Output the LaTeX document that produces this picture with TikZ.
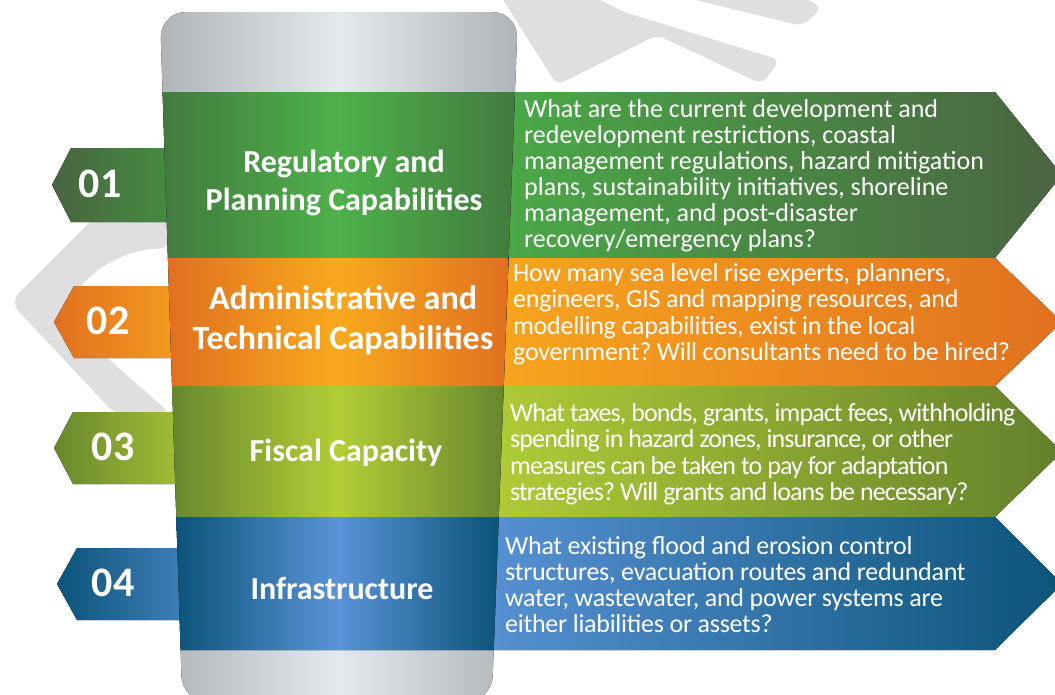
\documentclass[tikz,border=0pt]{standalone}
\usepackage{fontspec}
\setmainfont{Carlito}
\usepackage{tikz}
\frenchspacing

\definecolor{wmark}{HTML}{DFDFDF}
\definecolor{cupEdge}{HTML}{B0B4B8}
\definecolor{cupMid}{HTML}{E3E9ED}
\definecolor{regEdge}{HTML}{427A3E}
\definecolor{regMid}{HTML}{4EB14A}
\definecolor{regDeep}{HTML}{4A6442}
\definecolor{admEdge}{HTML}{E1701F}
\definecolor{admMid}{HTML}{F8A91E}
\definecolor{fisEdge}{HTML}{68872E}
\definecolor{fisMid}{HTML}{B3CE36}
\definecolor{infEdge}{HTML}{0B5479}
\definecolor{infMid}{HTML}{5A93D7}

\begin{document}
\begin{tikzpicture}[x=1pt,y=-1pt,line join=round,
    num/.style={text=white,font=\bfseries\fontsize{42}{42}\selectfont,anchor=base,inner sep=0},
    title/.style={text=white,font=\bfseries\fontsize{32}{38}\selectfont,align=center,inner sep=0},
    desc/.style={text=white,font=\fontsize{26}{26}\selectfont,align=left,inner sep=0,anchor=north west}]
\useasboundingbox (0,0) rectangle (1055,694);
\clip (0,0) rectangle (1055,694);
\fill[white] (0,0) rectangle (1055,694);

% watermark
\fill[wmark,rounded corners=12] (172,140) -- (10,302) -- (116,415) -- (172,415) -- (62,318)
    .. controls (85,272) and (120,250) .. (172,248) -- cycle;
\fill[wmark,rounded corners=8] (500,-5) -- (557,85) -- (657,35) -- (762,84) -- (780,60)
    -- (624,12) -- (590,-5) -- cycle;
\fill[wmark,rounded corners=8] (675,-5) -- (802,26) -- (822,8) -- (800,-5) -- cycle;

% number tabs
\fill[left color=regDeep,right color=regMid!85!black] (52,185) -- (71,148) -- (200,148) -- (200,222) -- (71,222) -- cycle;
\fill[left color=admEdge,right color=admMid!90!admEdge] (54,322) -- (74,286) -- (200,286) -- (200,358) -- (74,358) -- cycle;
\fill[left color=fisEdge,right color=fisMid!90!fisEdge] (54,448) -- (73,412) -- (200,412) -- (200,484) -- (73,484) -- cycle;
\fill[left color=infEdge,right color=infMid!75!infEdge] (57,584) -- (77,548) -- (200,548) -- (200,620) -- (77,620) -- cycle;

% question arrows
\fill[left color=regMid!95!black,right color=regDeep] (515,92) -- (995,92) -- (1062,175) -- (995,258) -- (508.6,258) -- cycle;
\fill[left color=admMid!92!admEdge,right color=admEdge] (508.6,258) -- (995,258) -- (1062,322) -- (995,386) -- (503.7,386) -- cycle;
\fill[left color=fisMid!95!fisEdge,right color=fisEdge!95!black] (503.7,386) -- (995,386) -- (1062,452) -- (995,517) -- (498.7,517) -- cycle;
\fill[left color=infMid!95!infEdge,right color=infEdge] (498.7,517) -- (995,517) -- (1062,584) -- (995,650) -- (493.7,650) -- cycle;

% cup
\fill[left color=cupEdge,right color=cupEdge,middle color=cupMid,rounded corners=26]
    (160,12) -- (518,12) -- (491.7,702) -- (182.3,702) -- cycle;
\fill[left color=regEdge,right color=regEdge,middle color=regMid] (162.6,92) -- (515,92) -- (508.6,258) -- (167.9,258) -- cycle;
\fill[left color=admEdge,right color=admEdge,middle color=admMid] (167.9,258) -- (508.6,258) -- (503.7,386) -- (172.1,386) -- cycle;
\fill[left color=fisEdge,right color=fisEdge,middle color=fisMid] (172.1,386) -- (503.7,386) -- (498.7,517) -- (176.3,517) -- cycle;
\fill[left color=infEdge,right color=infEdge,middle color=infMid] (176.3,517) -- (498.7,517) -- (493.7,650) -- (180.6,650) -- cycle;

% labels
\node[num] (n01) at (100,197) {01};
\node[num] (n02) at (108,334) {02};
\node[num] (n03) at (113,460) {03};
\node[num] (n04) at (113,596) {04};

\node[title] (reg) at (344,183) {Regulatory and\\Planning Capabilities};
\node[title,font=\bfseries\fontsize{34}{40}\selectfont] (adm) at (343,320) {Administrative and\\Technical Capabilities};
\node[title,anchor=base] (fis) at (346,461) {Fiscal Capacity};
\node[title,anchor=base] (inf) at (342,599) {Infrastructure};

\node[desc] (regq) at (524,99) {What are the current development and\\redevelopment restrictions, coastal\\management regulations, hazard mitigation\\plans, sustainability initiatives, shoreline\\management, and post-disaster\\recovery/emergency plans?};
\node[desc,font=\fontsize{26}{26.5}\selectfont\addfontfeature{LetterSpace=-1}] (admq) at (513,263) {How many sea level rise experts, planners,\\engineers, GIS and mapping resources, and\\modelling capabilities, exist in the local\\government? Will consultants need to be hired?};
\node[desc,font=\fontsize{26}{26.5}\selectfont\addfontfeature{LetterSpace=-3.5}] (fisq) at (510,403) {What taxes, bonds, grants, impact fees, withholding\\spending in hazard zones, insurance, or other\\measures can be taken to pay for adaptation\\strategies? Will grants and loans be necessary?};
\node[desc,font=\fontsize{26}{26}\selectfont\addfontfeature{LetterSpace=-1}] (infq) at (505,536) {What existing flood and erosion control\\structures, evacuation routes and redundant\\water, wastewater, and power systems are\\either liabilities or assets?};
\end{tikzpicture}
\end{document}
